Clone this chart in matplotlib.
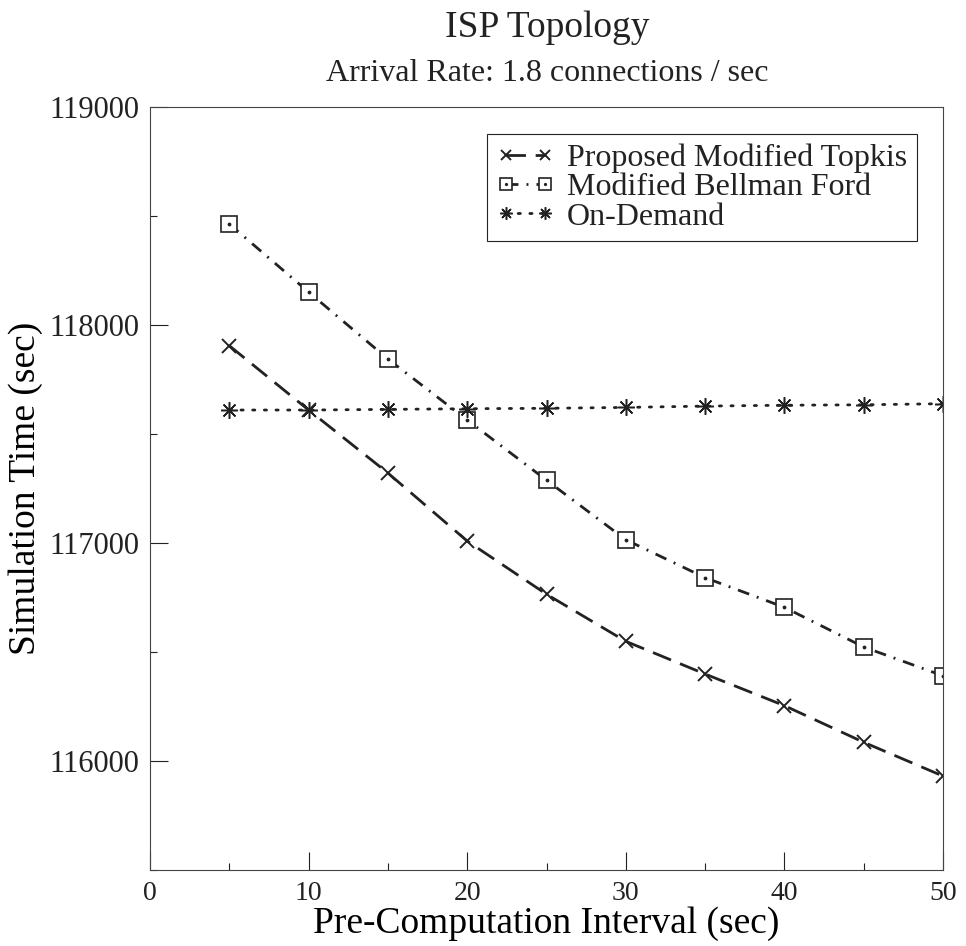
"""Simulation time vs pre-computation interval, ISP topology."""
import matplotlib
matplotlib.use('Agg')
import matplotlib.pyplot as plt
from matplotlib.legend_handler import HandlerTuple
from matplotlib.ticker import MultipleLocator

interval = [5, 10, 15, 20, 25, 30, 35, 40, 45, 50]
topkis = [117905, 117610, 117321, 117009, 116765, 116549, 116399, 116254, 116086, 115931]
bellman = [118463, 118151, 117844, 117564, 117288, 117015, 116841, 116705, 116523, 116391]
on_demand = [117610, 117610, 117613, 117616, 117618, 117622, 117628, 117632, 117634, 117639]

series_names = ['Proposed Modified Topkis', 'Modified Bellman Ford', 'On-Demand']
title = 'ISP Topology'
subtitle = 'Arrival Rate: 1.8 connections / sec'

ink = '#222222'
plt.rcParams['font.family'] = ['Liberation Serif', 'DejaVu Serif']
plt.rcParams['text.color'] = ink

fig = plt.figure(figsize=(9.66, 9.46), dpi=100)
ax = fig.add_axes([0.1553, 0.0803, 0.8209, 0.8066])

lw = 2.0
l_top, = ax.plot(interval, topkis, color=ink, lw=lw, dashes=(7, 3.5),
                 marker='x', markersize=9.5, markeredgewidth=1.4)
l_bf, = ax.plot(interval, bellman, color=ink, lw=lw, dashes=(4.3, 2.9, 0.7, 2.9),
                marker='s', markersize=11, markerfacecolor='white',
                markeredgecolor=ink, markeredgewidth=1.2)
l_bf_dot, = ax.plot(interval, bellman, color=ink, linestyle='none',
                    marker='.', markersize=3.5)
l_od, = ax.plot(interval, on_demand, color=ink, lw=lw, dashes=(0.8, 3.4),
                dash_capstyle='round', marker=(8, 2, 0), markersize=12,
                markeredgewidth=1.1)

ax.set_xlim(0, 50)
ax.set_ylim(115500, 119000)
ax.xaxis.set_major_locator(MultipleLocator(10))
ax.xaxis.set_minor_locator(MultipleLocator(5))
ax.yaxis.set_major_locator(MultipleLocator(1000))
ax.yaxis.set_minor_locator(MultipleLocator(500))
ax.tick_params(which='both', direction='in', top=False, right=False,
               colors=ink, width=0.8)
ax.tick_params(which='major', length=13, pad=8)
ax.tick_params(which='minor', length=5)
ax.tick_params(axis='x', labelsize=20)
ax.tick_params(axis='y', labelsize=22)
for s in ax.spines.values():
    s.set_linewidth(0.8)
    s.set_color('#444444')

ax.set_xlabel('Pre-Computation Interval (sec)', fontsize=27, labelpad=0)
ax.set_ylabel('Simulation Time (sec)', fontsize=27, labelpad=4)

fig.text(0.566, 0.961, title, fontsize=27, ha='center', va='baseline')
fig.text(0.566, 0.914, subtitle, fontsize=23, ha='center', va='baseline')

leg = ax.legend([l_top, (l_bf, l_bf_dot), l_od], series_names,
                handler_map={tuple: HandlerTuple(ndivide=1)},
                loc='upper right', bbox_to_anchor=(0.967, 0.965),
                fontsize=23, numpoints=2, markerscale=0.75,
                handlelength=1.8, handletextpad=0.4, labelspacing=0.0,
                borderpad=0.3, borderaxespad=0, fancybox=False,
                framealpha=1, edgecolor=ink)
leg.get_frame().set_linewidth(0.8)

fig.savefig('out.png', dpi=100)
